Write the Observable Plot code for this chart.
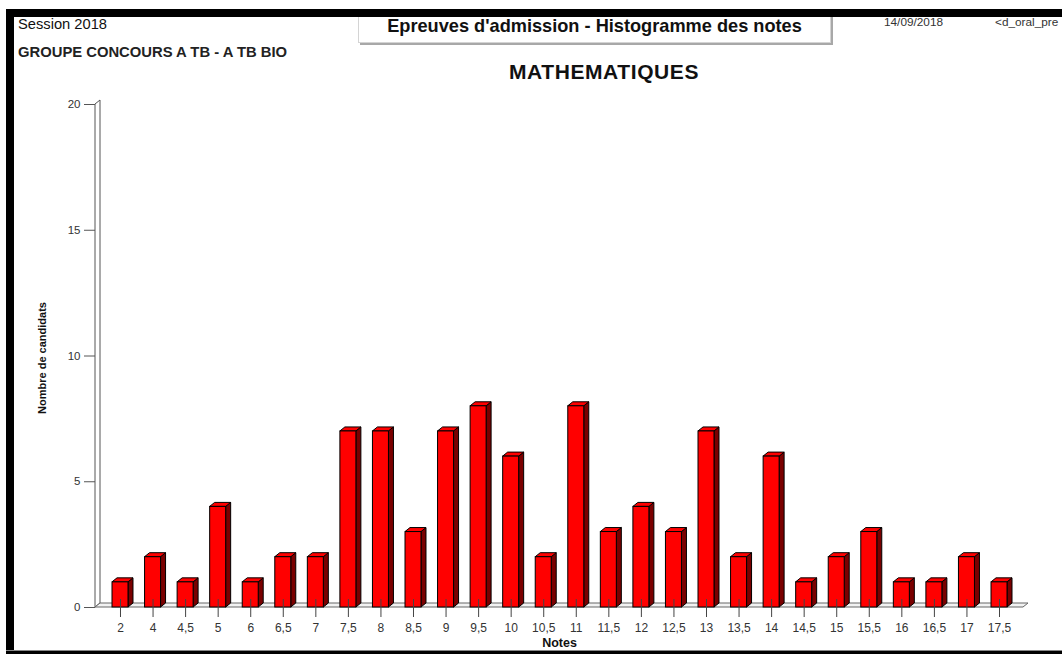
<!DOCTYPE html>
<html><head><meta charset="utf-8">
<script src="https://cdn.jsdelivr.net/npm/d3@7"></script>
<script src="https://cdn.jsdelivr.net/npm/@observablehq/plot@0.6"></script>
<style>
body{margin:0;background:#fff;font-family:"Liberation Sans",Arial,sans-serif;}
#page{position:relative;width:1062px;height:654px;overflow:hidden;background:#fff;}
.abs{position:absolute;white-space:nowrap;line-height:1;}
.band{position:absolute;background:#000;}
</style></head><body>
<div id="page">
  <div id="chart" style="position:absolute;left:0;top:90px;"></div>
  <div class="abs" style="left:18px;top:17px;font-size:14.7px;color:#111;">Session 2018</div>
  <div class="abs" style="left:18px;top:45px;font-size:14.8px;font-weight:bold;color:#222;">GROUPE CONCOURS A TB - A TB BIO</div>
  <div class="abs" style="left:358px;top:9px;width:471px;height:32px;border:1px solid #d4d4d4;box-shadow:2px 2px 0 #a8a8a8;background:#fff;"></div>
  <div class="abs" style="left:358px;top:16.5px;width:473px;text-align:center;font-size:18.2px;font-weight:bold;color:#111;">Epreuves d'admission - Histogramme des notes</div>
  <div class="abs" style="left:884px;top:16.5px;font-size:11.8px;color:#333;">14/09/2018</div>
  <div class="abs" style="left:995px;top:16.5px;font-size:11.8px;color:#333;">&lt;d_oral_pre</div>
  <div class="abs" style="left:254px;top:60.5px;width:700px;text-align:center;font-size:21px;letter-spacing:0.6px;font-weight:bold;color:#111;">MATHEMATIQUES</div>
  <div class="band" style="left:6px;top:9px;width:1056px;height:8px;"></div>
  <div class="band" style="left:6px;top:9px;width:8px;height:645px;"></div>
  <div class="band" style="left:6px;top:650px;width:1056px;height:1px;background:#888;"></div>
  <div class="band" style="left:6px;top:651px;width:1056px;height:3px;"></div>
</div>
<script>
// ---- data ----
const notes = ["2","4","4,5","5","6","6,5","7","7,5","8","8,5","9","9,5","10","10,5","11","11,5","12","12,5","13","13,5","14","14,5","15","15,5","16","16,5","17","17,5"];
const counts = [1,2,1,4,1,2,2,7,7,3,7,8,6,2,8,3,4,3,7,2,6,1,2,3,1,1,2,1];
const yTicks = [0,5,10,15,20];

const data = notes.map((n, i) => ({note: n, count: counts[i]}));

// ---- layout / style constants ----
const W = 1062, H = 564, mL = 95, mR = 39, mT = 14, mB = 47;
const INSET = 8.28, DX = 5, DY = 4;

function bw(s) {
  if (typeof s.bandwidth === "function") return s.bandwidth();
  if (typeof s.bandwidth === "number") return s.bandwidth;
  return 32.56;
}

function depthMark(index, scales, values, dimensions) {
  const x = scales.x, y = scales.y;
  const width = dimensions && dimensions.width || W;
  const left = dimensions && dimensions.marginLeft != null ? dimensions.marginLeft : mL;
  const right = width - (dimensions && dimensions.marginRight != null ? dimensions.marginRight : mR);
  const y0 = y(0), yTop = y(yTicks[yTicks.length - 1]);
  const g = d3.create("svg:g");
  // back wall
  g.append("path")
    .attr("d", `M${left},${y0}V${yTop}L${left + DX},${yTop - DY}V${y0 - DY}Z`)
    .attr("fill", "#fff").attr("stroke", "#555");
  // floor
  g.append("path")
    .attr("d", `M${left},${y0}H${right}L${right + DX},${y0 - DY}H${left + DX}Z`)
    .attr("fill", "#f2f2f2").attr("stroke", "#666");
  const b = bw(x);
  data.forEach(d => {
    const xl = x(d.note) + INSET, xr = x(d.note) + b - INSET, yt = y(d.count);
    g.append("path")
      .attr("d", `M${xr},${yt}L${xr + DX},${yt - DY}V${y0 - DY}L${xr},${y0}Z`)
      .attr("fill", "#7a0000").attr("stroke", "#000");
    g.append("path")
      .attr("d", `M${xl},${yt}L${xl + DX},${yt - DY}H${xr + DX}L${xr},${yt}Z`)
      .attr("fill", "#ff0000").attr("stroke", "#000");
  });
  return g.node();
}

const chart = Plot.plot({
  width: W, height: H,
  marginLeft: mL, marginRight: mR, marginTop: mT, marginBottom: mB,
  style: {fontFamily: '"Liberation Sans", Arial, sans-serif', background: "transparent", color: "#333", overflow: "visible"},
  x: {type: "band", domain: notes, range: [103.72, 1015.28], padding: 0, round: false},
  y: {domain: [0, 20]},
  marks: [
    depthMark,
    Plot.barY(data, {x: "note", y: "count", fill: "#ff0000", stroke: "#000", strokeWidth: 1, insetLeft: INSET, insetRight: INSET}),
    Plot.axisX({tickSize: 18, dy: -8, tickFormat: () => "", label: null, stroke: "#444"}),
    Plot.axisX({tickSize: 0, tickPadding: 16, fontSize: 12, label: null, fill: "#333"}),
    Plot.axisY(yTicks, {tickSize: 11, tickPadding: 4, fontSize: 11.5, label: null, stroke: "#555", fill: "#333"}),
    Plot.text(["Notes"], {text: d => d, frameAnchor: "bottom", dy: 35, lineAnchor: "middle", textAnchor: "middle", fontWeight: "bold", fontSize: 12.5, fill: "#111"}),
    Plot.text(["Nombre de candidats"], {text: d => d, frameAnchor: "left", dx: -53, dy: 2, rotate: -90, lineAnchor: "middle", textAnchor: "middle", fontWeight: "bold", fontSize: 11, fill: "#111"})
  ]
});
document.getElementById("chart").appendChild(chart);
</script>
</body></html>
